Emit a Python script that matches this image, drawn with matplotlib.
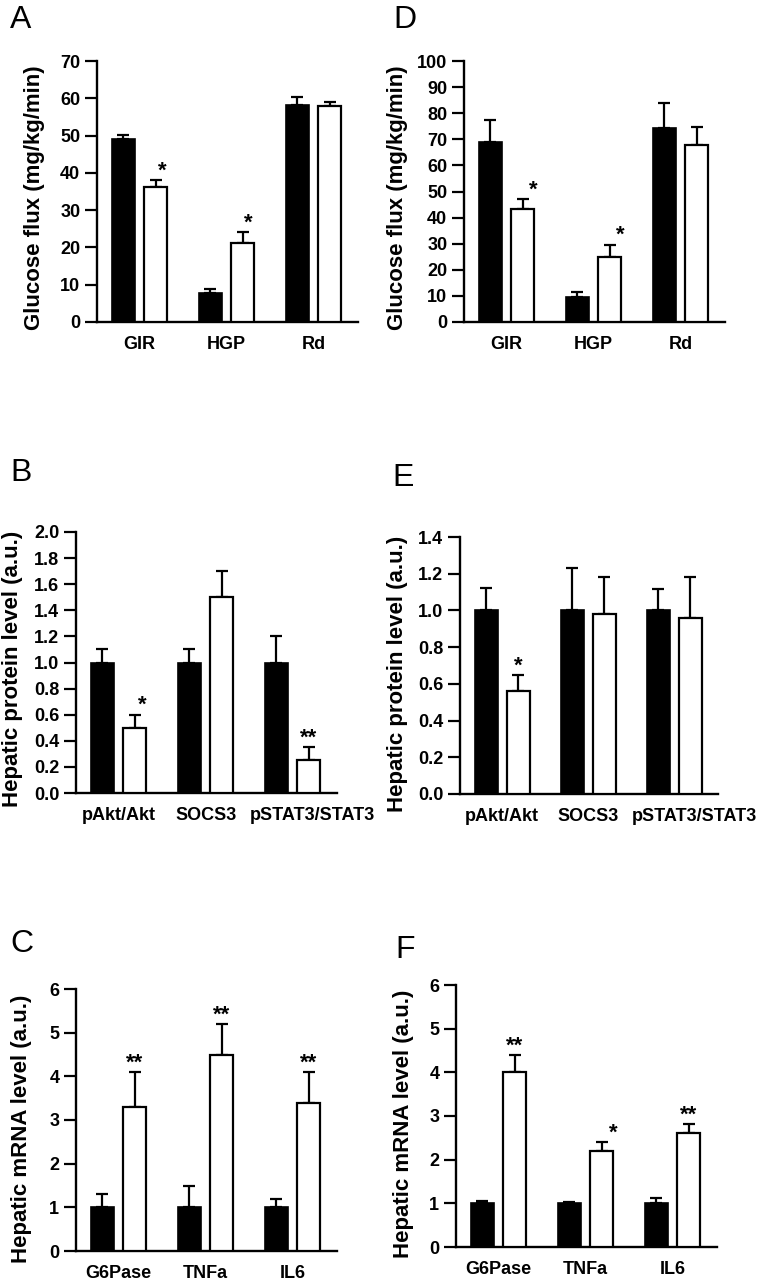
import matplotlib
matplotlib.use("Agg")
import matplotlib.pyplot as plt
import numpy as np

plt.rcParams['font.family'] = ['Liberation Sans', 'DejaVu Sans']

# ---------------- data ----------------
glucose_cats = ['GIR', 'HGP', 'Rd']
protein_cats = ['pAkt/Akt', 'SOCS3', 'pSTAT3/STAT3']
mrna_cats = ['G6Pase', 'TNFa', 'IL6']

A_ctrl = [49.2, 7.9, 58.2]
A_ctrl_err = [0.9, 0.9, 2.1]
A_trt = [36.2, 21.1, 57.9]
A_trt_err = [1.9, 3.0, 1.0]
A_sig = ['*', '*', '']

D_ctrl = [69.0, 9.7, 74.5]
D_ctrl_err = [8.5, 1.8, 9.5]
D_trt = [43.4, 24.8, 67.7]
D_trt_err = [3.7, 4.8, 6.9]
D_sig = ['*', '*', '']

B_ctrl = [1.0, 1.0, 1.0]
B_ctrl_err = [0.1, 0.1, 0.2]
B_trt = [0.5, 1.5, 0.25]
B_trt_err = [0.1, 0.2, 0.1]
B_sig = ['*', '', '**']

E_ctrl = [1.0, 1.0, 1.0]
E_ctrl_err = [0.12, 0.23, 0.115]
E_trt = [0.56, 0.98, 0.96]
E_trt_err = [0.088, 0.2, 0.22]
E_sig = ['*', '', '']

C_ctrl = [1.0, 1.0, 1.0]
C_ctrl_err = [0.3, 0.5, 0.2]
C_trt = [3.3, 4.5, 3.4]
C_trt_err = [0.8, 0.7, 0.7]
C_sig = ['**', '**', '**']

F_ctrl = [1.0, 1.0, 1.0]
F_ctrl_err = [0.06, 0.04, 0.12]
F_trt = [4.0, 2.2, 2.6]
F_trt_err = [0.4, 0.2, 0.22]
F_sig = ['**', '*', '**']

A_yticks = [0, 10, 20, 30, 40, 50, 60, 70]
D_yticks = [0, 10, 20, 30, 40, 50, 60, 70, 80, 90, 100]
B_yticks = [0.0, 0.2, 0.4, 0.6, 0.8, 1.0, 1.2, 1.4, 1.6, 1.8, 2.0]
E_yticks = [0.0, 0.2, 0.4, 0.6, 0.8, 1.0, 1.2, 1.4]
C_yticks = [0, 1, 2, 3, 4, 5, 6]
F_yticks = [0, 1, 2, 3, 4, 5, 6]

glucose_label = 'Glucose flux (mg/kg/min)'
protein_label = 'Hepatic protein level (a.u.)'
mrna_label = 'Hepatic mRNA level (a.u.)'

# ---------------- layout ----------------
W, H = 760, 1280
fig = plt.figure(figsize=(W / 100, H / 100), dpi=100)

panels = [
    ('A', (97, 358, 61, 322), glucose_cats, A_ctrl, A_ctrl_err, A_trt, A_trt_err, A_sig,
     A_yticks, '{:.0f}', glucose_label, 62, 0.477, (10, 28), [6, 5, 0], [0, 0, 0]),
    ('D', (464, 725, 61, 322), glucose_cats, D_ctrl, D_ctrl_err, D_trt, D_trt_err, D_sig,
     D_yticks, '{:.0f}', glucose_label, 67, 0.477, (393, 28), [10, 10, 0], [0, 0, 0]),
    ('B', (76, 337, 532, 793), protein_cats, B_ctrl, B_ctrl_err, B_trt, B_trt_err, B_sig,
     B_yticks, '{:.1f}', protein_label, 63, 0.475, (10, 481), [7, 0, 0], [0, 0, 20]),
    ('E', (460, 718, 537, 794), protein_cats, E_ctrl, E_ctrl_err, E_trt, E_trt_err, E_sig,
     E_yticks, '{:.1f}', protein_label, 62, 0.469, (392, 486), [0, 0, 0], [0, 0, 20]),
    ('C', (76, 337, 989, 1251), mrna_cats, C_ctrl, C_ctrl_err, C_trt, C_trt_err, C_sig,
     C_yticks, '{:.0f}', mrna_label, 54, 0.465, (10, 952), [0, 0, 0], [0, 0, 0]),
    ('F', (456, 717, 985, 1247), mrna_cats, F_ctrl, F_ctrl_err, F_trt, F_trt_err, F_sig,
     F_yticks, '{:.0f}', mrna_label, 53, 0.469, (395, 958), [0, 11, 0], [0, 0, 0]),
]

bar_w = 0.265
off = 0.186
tick_fs = 13
label_fs = 16

for (letter, (l, r, t, b), cats, ctrl, ctrl_err, trt, trt_err, sig, yticks, fmt, ylabel,
     ylab_off, ylab_y, (lx, ly), star_dx, lab_dx) in panels:
    ax = fig.add_axes([l / W, 1 - b / H, (r - l) / W, (b - t) / H])
    x = np.arange(len(cats))
    ax.bar(x - off, ctrl, width=bar_w, color='black', edgecolor='black', linewidth=1.2, zorder=3)
    ax.bar(x + off, trt, width=bar_w, color='white', edgecolor='black', linewidth=1.6, zorder=3)
    ax.errorbar(x - off, ctrl, yerr=[np.zeros(len(ctrl)), ctrl_err], fmt='none', ecolor='black',
                elinewidth=1.6, capsize=4.5, capthick=1.6, zorder=2)
    ax.errorbar(x + off, trt, yerr=[np.zeros(len(trt)), trt_err], fmt='none', ecolor='black',
                elinewidth=1.6, capsize=4.5, capthick=1.6, zorder=2)
    for xi, v, e, s, dx in zip(x, trt, trt_err, sig, star_dx):
        if s:
            ax.annotate(s, xy=(xi + off, v + e), xytext=(dx * 0.72, -1), textcoords='offset points',
                        ha='center', va='bottom', fontsize=16, fontweight='bold')
    ax.set_xlim(-0.49, 2.51)
    ax.set_ylim(yticks[0], yticks[-1])
    ax.set_yticks(yticks)
    ax.set_yticklabels([fmt.format(v) for v in yticks], fontsize=tick_fs, fontweight='bold')
    ax.set_xticks([])
    for xi, cat, dx in zip(x, cats, lab_dx):
        ax.annotate(cat, xy=(xi, yticks[0]), xytext=(dx * 0.72, -16.5), textcoords='offset points',
                    ha='center', va='center', fontsize=tick_fs, fontweight='bold',
                    annotation_clip=False)
    ax.tick_params(axis='y', length=9, width=1.6, pad=3, direction='out')
    for sp in ['top', 'right']:
        ax.spines[sp].set_visible(False)
    for sp in ['left', 'bottom']:
        ax.spines[sp].set_linewidth(1.7)
    ax.set_ylabel(ylabel, fontsize=label_fs, fontweight='bold', va='center')
    ax.yaxis.set_label_coords(-ylab_off / (r - l), ylab_y)
    ax.patch.set_alpha(0)
    fig.text(lx / W, 1 - ly / H, letter, fontsize=23, fontweight='light', ha='left', va='baseline')

fig.savefig('out.png', dpi=100)
